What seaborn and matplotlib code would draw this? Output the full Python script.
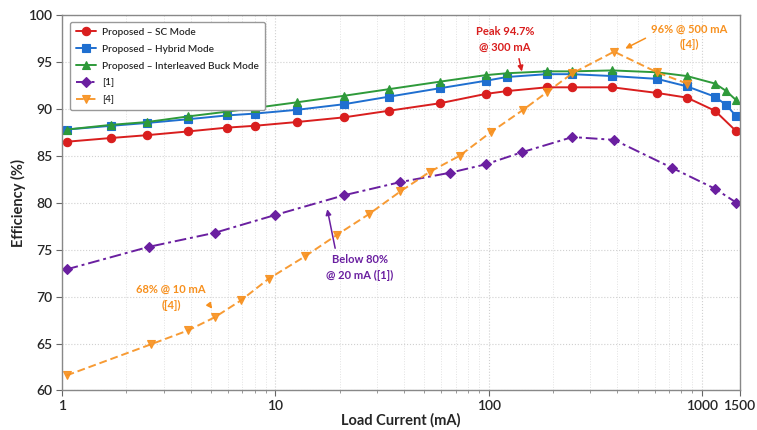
import pandas as pd
import matplotlib
matplotlib.use('Agg')
import matplotlib.pyplot as plt
from matplotlib.ticker import LogLocator, NullFormatter, FixedLocator, FixedFormatter
import seaborn as sns

# load current (mA)
x_main = [1.05, 1.7, 2.5, 3.9, 5.9, 8, 12.6, 21, 34, 59, 97, 122, 187, 245,
          380, 615, 850, 1150, 1300, 1450]
x_sc = [1.05, 1.7, 2.5, 3.9, 5.9, 8, 12.6, 21, 34, 59, 97, 122, 187, 245,
        380, 615, 850, 1150, 1450]
eff_sc = [86.5, 86.9, 87.2, 87.6, 88.0, 88.2, 88.6, 89.1, 89.8, 90.6, 91.6,
          91.9, 92.3, 92.3, 92.3, 91.7, 91.2, 89.8, 87.6]
eff_hybrid = [87.8, 88.2, 88.5, 88.9, 89.3, 89.5, 89.9, 90.5, 91.3, 92.2, 93.0,
              93.4, 93.7, 93.7, 93.5, 93.2, 92.4, 91.3, 90.4, 89.2]
eff_buck = [87.8, 88.3, 88.6, 89.2, 89.7, 90.1, 90.7, 91.4, 92.1, 92.9, 93.6,
            93.8, 94.0, 94.0, 94.1, 93.9, 93.5, 92.7, 91.9, 90.9]

x_ref1 = [1.05, 2.55, 5.2, 10, 21, 38.5, 66, 97, 144, 247, 387, 726, 1150, 1450]
eff_ref1 = [72.9, 75.3, 76.8, 78.7, 80.8, 82.2, 83.2, 84.1, 85.4, 87.0, 86.7,
            83.7, 81.5, 80.0]

x_ref4 = [1.05, 2.6, 3.9, 5.2, 6.9, 9.3, 13.8, 19.5, 27.5, 38.5, 53, 73, 102,
          145, 188, 247, 387, 615, 850]
eff_ref4 = [61.6, 64.9, 66.4, 67.8, 69.6, 71.9, 74.3, 76.6, 78.8, 81.2, 83.3,
            85.0, 87.5, 89.9, 91.8, 93.8, 96.1, 93.9, 92.7]

x_ticks = [1, 10, 100, 1000, 1500]
x_tick_labels = ['1', '10', '100', '1000', '1500']
y_ticks = [60, 65, 70, 75, 80, 85, 90, 95, 100]

RED = '#d91e1e'
BLUE = '#1f6fd0'
GREEN = '#2e9a3a'
PURPLE = '#6a1fa0'
ORANGE = '#f7901e'

sns.set_style('white')
plt.rcParams['font.family'] = ['Lato', 'DejaVu Sans']

fig, ax = plt.subplots(figsize=(7.57, 4.30), dpi=100)
fig.subplots_adjust(left=0.082, right=0.977, top=0.965, bottom=0.092)

series = [
    (x_sc, eff_sc, 'Proposed – SC Mode', RED, 'o', '-'),
    (x_main, eff_hybrid, 'Proposed – Hybrid Mode', BLUE, 's', '-'),
    (x_main, eff_buck, 'Proposed – Interleaved Buck Mode', GREEN, '^', '-'),
    (x_ref1, eff_ref1, '[1]', PURPLE, 'D', (0, (6, 2, 1.5, 2))),
    (x_ref4, eff_ref4, '[4]', ORANGE, 'v', (0, (4, 2))),
]
for xs, ys, name, color, mk, ls in series:
    df = pd.DataFrame({'load': xs, 'eff': ys})
    sns.lineplot(data=df, x='load', y='eff', ax=ax, color=color, label=name,
                 marker=mk, markersize=6 if mk != 'D' else 5,
                 markeredgecolor=color, markeredgewidth=0.8,
                 linestyle=ls, linewidth=1.4, errorbar=None,
                 alpha=0.9 if name == '[4]' else 1)

ax.set_xscale('log')
ax.set_xlim(1, 1500)
ax.set_ylim(60, 100)
ax.xaxis.set_major_locator(FixedLocator(x_ticks))
ax.xaxis.set_major_formatter(FixedFormatter(x_tick_labels))
ax.xaxis.set_minor_locator(LogLocator(base=10, subs=range(2, 10)))
ax.xaxis.set_minor_formatter(NullFormatter())
ax.set_yticks(y_ticks)
ax.tick_params(axis='both', which='major', labelsize=10, length=4, pad=3,
               color='#666666', bottom=True, left=True)
ax.tick_params(axis='x', which='minor', length=2.5, color='#888888',
               bottom=True)
for lab in ax.get_xticklabels() + ax.get_yticklabels():
    lab.set_fontweight('semibold')

ax.grid(True, which='major', color='#d0d0d0', linestyle=':', linewidth=0.8)
ax.grid(True, which='minor', axis='x', color='#e2e2e2', linestyle=':',
        linewidth=0.7)
for sp in ax.spines.values():
    sp.set_color('#888888')
    sp.set_linewidth(1.0)

ax.set_xlabel('Load Current (mA)', fontsize=10.5, fontweight='bold', labelpad=1)
ax.set_ylabel('Efficiency (%)', fontsize=10.5, fontweight='bold', labelpad=2)

leg = ax.legend(loc='upper left', fontsize=7.2, frameon=True, fancybox=True,
                edgecolor='#999999', framealpha=1, handlelength=2.0,
                borderpad=0.6, labelspacing=0.78, handletextpad=0.6,
                bbox_to_anchor=(0.005, 0.995))
for t in leg.get_texts():
    t.set_fontweight('semibold')

ax.annotate('Peak 94.7%\n@ 300 mA', xy=(144, 93.7), xytext=(119, 97.4),
            ha='center', va='center', fontsize=8, fontweight='bold',
            color=RED, linespacing=1.5,
            arrowprops=dict(arrowstyle='-|>', color=RED, lw=1.1,
                            mutation_scale=8, relpos=(0.72, 0)))
ax.annotate('96% @ 500 mA\n([4])', xy=(425, 96.3), xytext=(873, 97.7),
            ha='center', va='center', fontsize=8, fontweight='bold',
            color=ORANGE, linespacing=1.5,
            arrowprops=dict(arrowstyle='-|>', color=ORANGE, lw=1.1,
                            mutation_scale=8, relpos=(0, 0.55)))
ax.annotate('68% @ 10 mA\n([4])', xy=(5.06, 68.7), xytext=(3.24, 69.9),
            ha='center', va='center', fontsize=8, fontweight='bold',
            color=ORANGE, linespacing=1.5,
            arrowprops=dict(arrowstyle='-|>', color=ORANGE, lw=1.1,
                            mutation_scale=8, relpos=(1, 0.4)))
ax.annotate('Below 80%\n@ 20 mA ([1])', xy=(17.4, 79.6), xytext=(24.9, 73.1),
            ha='center', va='center', fontsize=8, fontweight='bold',
            color=PURPLE, linespacing=1.5,
            arrowprops=dict(arrowstyle='-|>', color=PURPLE, lw=1.1,
                            mutation_scale=8, relpos=(0.15, 1)))

plt.savefig('out.png', dpi=100)
plt.close()
